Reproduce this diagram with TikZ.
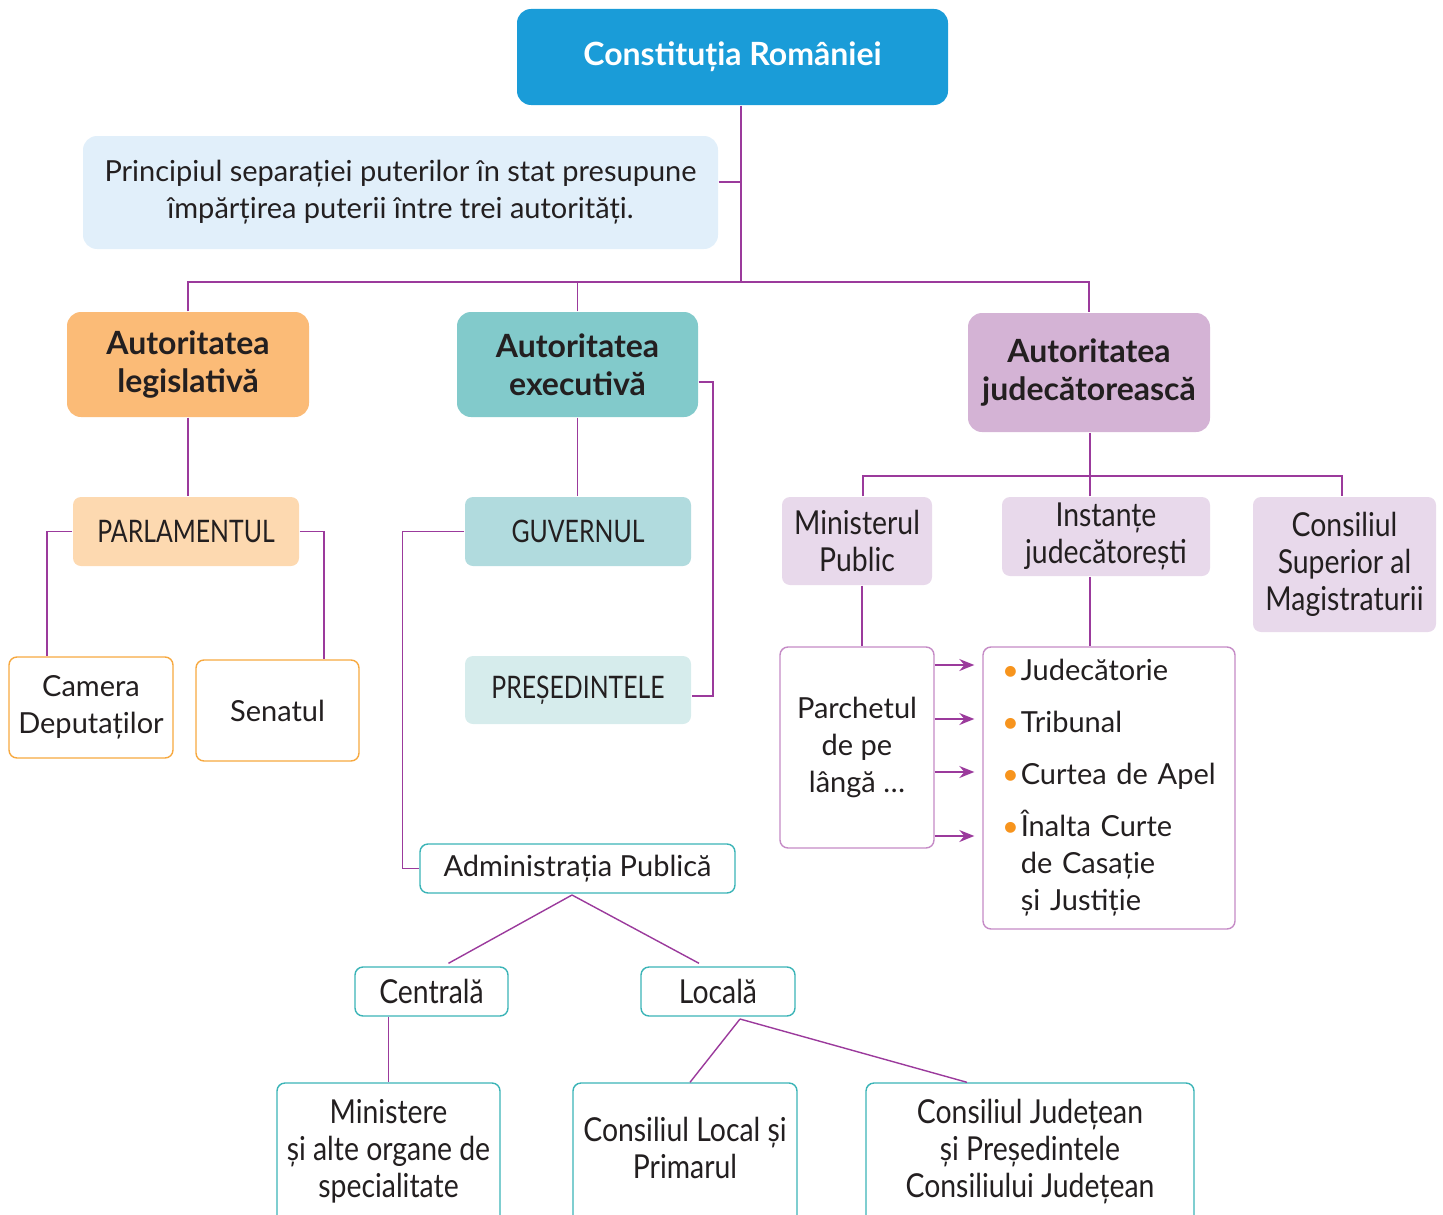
\documentclass[tikz,border=0pt]{standalone}
\usepackage{fontspec}
\setmainfont{Lato}
\newfontfamily\narrowfont[FakeStretch=0.86]{Lato}
\newfontfamily\capsfont[FakeStretch=0.8]{Lato}
\usetikzlibrary{arrows.meta}
\definecolor{ink}{HTML}{231F20}
\definecolor{lnc}{HTML}{9B3A9C}
\definecolor{titleblue}{HTML}{1A9CD8}
\definecolor{infoblue}{HTML}{E1EFFA}
\definecolor{legor}{HTML}{FBBB77}
\definecolor{parlor}{HTML}{FDD9B0}
\definecolor{camor}{HTML}{F7A940}
\definecolor{exeteal}{HTML}{82CACB}
\definecolor{guvteal}{HTML}{B1DBDE}
\definecolor{presteal}{HTML}{D6ECEC}
\definecolor{admteal}{HTML}{3BB4B7}
\definecolor{judpur}{HTML}{D4B3D5}
\definecolor{subpur}{HTML}{E8D9EB}
\definecolor{parpur}{HTML}{C58BC6}
\definecolor{dotor}{HTML}{F7941D}
\begin{document}
\begin{tikzpicture}[x=1pt,y=-1pt,line width=1.4pt,
  box/.style={rectangle,rounded corners=8pt,align=center,inner sep=0pt,text=ink,
    font=\fontsize{29}{37}\selectfont},
  bigbox/.style={box,rounded corners=14pt,font=\fontsize{32}{38}\selectfont\bfseries},
  narrow/.style={font=\fontsize{33}{37}\selectfont\narrowfont},
  caps/.style={font=\fontsize{31}{37}\selectfont\capsfont},
  conn/.style={draw=lnc},
  arr/.style={conn,-{Stealth[length=15pt,width=12pt,inset=5pt]}}]
\path[use as bounding box,clip] (0,0) rectangle (1443,1215);

\node[bigbox,fill=titleblue,text=white,minimum width=431,minimum height=96] (const) at (732.5,57) {Constituția României};
\node[box,rounded corners=14pt,fill=infoblue,minimum width=635,minimum height=113] (princ) at (400.5,192.5)
  {Principiul separației puterilor în stat presupune\\împărțirea puterii între trei autorități.};

\node[bigbox,fill=legor,minimum width=242,minimum height=105] (leg) at (188,364.5) {Autoritatea\\legislativă};
\node[bigbox,fill=exeteal,minimum width=241,minimum height=105] (exe) at (577.5,364.5) {Autoritatea\\executivă};
\node[bigbox,fill=judpur,minimum width=242,minimum height=119] (jud) at (1089,372.5) {Autoritatea\\judecătorească};

\node[box,caps,fill=parlor,minimum width=226,minimum height=69] (parl) at (186,531.5) {PARLAMENTUL};
\node[box,draw=camor,fill=white,minimum width=164,minimum height=101] (cam) at (91,707.5) {Camera\\Deputaților};
\node[box,draw=camor,fill=white,minimum width=163,minimum height=101] (sen) at (277.5,710.5) {Senatul};

\node[box,caps,fill=guvteal,minimum width=226,minimum height=69] (guv) at (578,531.5) {GUVERNUL};
\node[box,caps,fill=presteal,minimum width=226,minimum height=68] (pres) at (578,690) {PREȘEDINTELE};
\node[box,draw=admteal,fill=white,minimum width=315,minimum height=49] (adm) at (577.5,868.5) {Administrația Publică};
\node[box,narrow,draw=admteal,fill=white,minimum width=153,minimum height=49] (cen) at (431.5,991.5) {Centrală};
\node[box,narrow,draw=admteal,fill=white,minimum width=154,minimum height=49] (loc) at (718,991.5) {Locală};
\node[box,narrow,draw=admteal,fill=white,minimum width=223,minimum height=167] (minst) at (388.5,1166.5)
  {Ministere\\și alte organe de\\specialitate\\ \mbox{}};
\node[box,narrow,draw=admteal,fill=white,minimum width=224,minimum height=167] (cloc) at (685,1166.5)
  {Consiliul Local și\\Primarul\\ \mbox{}};
\node[box,narrow,draw=admteal,fill=white,minimum width=328,minimum height=167] (cjud) at (1030,1166.5)
  {Consiliul Județean\\și Președintele\\Consiliului Județean\\ \mbox{}};

\node[box,narrow,fill=subpur,minimum width=150,minimum height=88] (mpub) at (857,541) {Ministerul\\Public};
\node[box,narrow,fill=subpur,minimum width=208,minimum height=79] (inst) at (1106,536.5) {Instanțe\\judecătorești};
\node[box,narrow,fill=subpur,minimum width=183,minimum height=135] (csm) at (1344.5,564.5) {Consiliul\\Superior al\\Magistraturii};
\node[box,draw=parpur,fill=white,minimum width=154,minimum height=201] (parch) at (857,747.5) {Parchetul\\de pe\\lângă …};
\node[box,draw=parpur,fill=white,minimum width=252,minimum height=282,inner xsep=19pt,text width=214pt,align=left] (lst) at (1109,788)
  {\begin{tabular}{@{}l@{\hspace{2pt}}l@{}}
   {\color{dotor}•} & Judecătorie\\[15pt]
   {\color{dotor}•} & Tribunal\\[15pt]
   {\color{dotor}•} & Curtea de Apel\\[15pt]
   {\color{dotor}•} & Înalta Curte\\
    & de Casație\\
    & și Justiție
   \end{tabular}};

\coordinate (hub) at (741,282);
\coordinate (jhub) at (1090,476);
\coordinate (admfoot) at (572,895);
\coordinate (locfoot) at (740,1019);
\coordinate (lstin) at ([shift={(-8,0)}]lst.west);

\draw[conn] (hub |- const.south) -- (hub);
\draw[conn] (princ.east |- 0,182) -- (hub |- 0,182);
\draw[conn] (leg.north) |- (hub) -| (jud.north);
\draw[conn] (exe.north) -- (exe.north |- hub);
\draw[conn] (leg.south) -- (leg.south |- parl.north);
\draw[conn] (parl.west) -| (cam.north -| 47,0);
\draw[conn] (parl.east) -| (sen.north -| 324,0);
\draw[conn] (exe.south) -- (exe.south |- guv.north);
\draw[conn] (exe.east |- 0,382) -| (713,696) -- (pres.east |- 0,696);
\draw[conn] (guv.west) -- ++(-62,0) |- (adm.west);
\draw[conn] (admfoot) -- ([shift={(17,-3)}]cen.north);
\draw[conn] (admfoot) -- ([shift={(-19,-3)}]loc.north);
\draw[conn] (minst.north |- cen.south) -- (minst.north);
\draw[conn] (locfoot) -- ([shift={(5,0)}]cloc.north);
\draw[conn] (locfoot) -- ([shift={(-63,0)}]cjud.north);
\draw[conn] (jud.south -| jhub) -- (jhub);
\draw[conn] (mpub.north -| 863,0) |- (jhub) -| (csm.north -| 1342,0);
\draw[conn] (inst.north -| jhub) -- (jhub);
\draw[conn] (mpub.south -| 862,0) -- (parch.north -| 862,0);
\draw[conn] (inst.south -| jhub) -- (lst.north -| jhub);
\foreach \yy in {665,719,772,836}
  \draw[arr] (parch.east |- 0,\yy) -- (lstin |- 0,\yy);
\end{tikzpicture}
\end{document}
